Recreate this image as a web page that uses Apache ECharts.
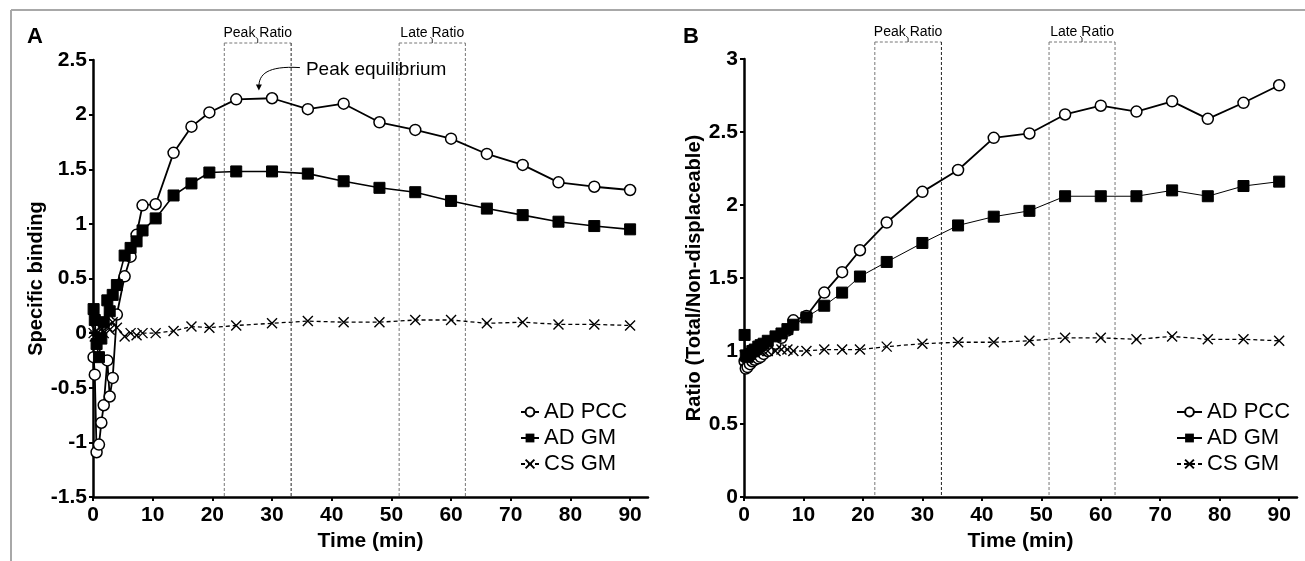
<!DOCTYPE html>
<html>
<head>
<meta charset="utf-8">
<script src="https://cdn.jsdelivr.net/npm/echarts@6/dist/echarts.min.js"></script>
<style>
  html, body { margin: 0; padding: 0; background: #fff; }
  #chart { width: 1305px; height: 561px; }
</style>
</head>
<body>
<div id="chart"></div>
<script>
// frame mid-times (min), shared by both panels
const timeMin = [0.1, 0.3, 0.6, 1, 1.4, 1.8, 2.4, 2.8, 3.3, 4, 5.3, 6.3, 7.3, 8.3, 10.5,
  13.5, 16.5, 19.5, 24, 30, 36, 42, 48, 54, 60, 66, 72, 78, 84, 90]

// panel A: specific binding
const bindingPCC = [-0.22, -0.38, -1.09, -1.02, -0.82, -0.66, -0.25, -0.58, -0.41, 0.17, 0.52, 0.70, 0.9, 1.17, 1.18,
  1.65, 1.89, 2.02, 2.14, 2.15, 2.05, 2.10, 1.93, 1.86, 1.78, 1.64, 1.54, 1.38, 1.34, 1.31]
const bindingADGM = [0.22, 0.12, -0.1, -0.22, -0.05, 0.1, 0.3, 0.2, 0.35, 0.44, 0.71, 0.78, 0.84, 0.94, 1.05,
  1.26, 1.37, 1.47, 1.48, 1.48, 1.46, 1.39, 1.33, 1.29, 1.21, 1.14, 1.08, 1.02, 0.98, 0.95]
const bindingCSGM = [0.0, -0.03, 0.02, -0.02, 0.04, 0.0, 0.06, 0.03, 0.1, 0.05, -0.03, 0.0, -0.02, 0.0, 0.0,
  0.02, 0.06, 0.05, 0.07, 0.09, 0.11, 0.10, 0.10, 0.12, 0.12, 0.09, 0.10, 0.08, 0.08, 0.07]

// panel B: ratio total / non-displaceable
const ratioPCC = [0.93, 0.88, 0.89, 0.91, 0.93, 0.94, 0.95, 0.96, 0.98, 1.0, 1.05, 1.09, 1.14, 1.21, 1.24,
  1.40, 1.54, 1.69, 1.88, 2.09, 2.24, 2.46, 2.49, 2.62, 2.68, 2.64, 2.71, 2.59, 2.70, 2.82]
const ratioADGM = [1.11, 0.97, 0.96, 0.98, 1.0, 1.01, 1.03, 1.04, 1.05, 1.07, 1.10, 1.12, 1.15, 1.18, 1.23,
  1.31, 1.40, 1.51, 1.61, 1.74, 1.86, 1.92, 1.96, 2.06, 2.06, 2.06, 2.10, 2.06, 2.13, 2.16]
const ratioCSGM = [0.97, 0.96, 0.97, 0.98, 0.99, 0.99, 1.0, 1.0, 1.0, 1.0, 1.0, 1.01, 1.01, 1.0, 1.0,
  1.01, 1.01, 1.01, 1.03, 1.05, 1.06, 1.06, 1.07, 1.09, 1.09, 1.08, 1.10, 1.08, 1.08, 1.07]

const xTicks = [0, 10, 20, 30, 40, 50, 60, 70, 80, 90]
const peakWindow = [22, 33.2]
const lateWindow = [51.3, 62.4]
const peakMarker = [27.8, 2.22] // arrow tip for "Peak equilibrium"

const FONT = '"Liberation Sans", Arial, sans-serif'
const chart = echarts.init(document.getElementById('chart'))

function xAxis (idx) {
  return {
    gridIndex: idx,
    type: 'value',
    min: 0,
    max: 93,
    interval: 10,
    name: 'Time (min)',
    nameLocation: 'middle',
    nameGap: 32,
    nameTextStyle: { fontFamily: FONT, fontWeight: 'bold', fontSize: 21, color: '#000' },
    axisLine: { onZero: false, lineStyle: { color: '#000', width: 2.5 } },
    axisTick: { show: true, length: 4, customValues: xTicks, lineStyle: { color: '#000', width: 2 } },
    axisLabel: { customValues: xTicks, margin: 8, fontFamily: FONT, fontWeight: 'bold', fontSize: 21, color: '#000' },
    splitLine: { show: false }
  }
}

function yAxis (idx, min, max, name, gap) {
  return {
    gridIndex: idx,
    type: 'value',
    min: min,
    max: max,
    interval: 0.5,
    name: name,
    nameLocation: 'middle',
    nameGap: gap,
    nameTextStyle: { fontFamily: FONT, fontWeight: 'bold', fontSize: 20, color: '#000' },
    axisLine: { show: true, onZero: false, lineStyle: { color: '#000', width: 2.5 } },
    axisTick: { show: true, length: 4, lineStyle: { color: '#000', width: 2 } },
    axisLabel: { margin: 6, fontFamily: FONT, fontWeight: 'bold', fontSize: 21, color: '#000' },
    splitLine: { show: false }
  }
}

const crossPath = 'path://M0,0L10,10M10,0L0,10'

function series (idx, name, values, kind, width) {
  const s = {
    type: 'line',
    name: name,
    xAxisIndex: idx,
    yAxisIndex: idx,
    data: timeMin.map((t, i) => [t, values[i]]),
    symbolSize: 11,
    showAllSymbol: true,
    animation: false,
    silent: true,
    lineStyle: { color: '#000', width: width }
  }
  if (kind === 'circle') {
    s.symbol = 'circle'
    s.itemStyle = { color: '#fff', borderColor: '#000', borderWidth: 1.5 }
  } else if (kind === 'rect') {
    s.symbol = 'rect'
    s.itemStyle = { color: '#000', borderColor: '#000' }
  } else {
    s.symbol = crossPath
    s.symbolSize = 10
    s.itemStyle = { color: 'rgba(0,0,0,0)', borderColor: '#000', borderWidth: 1.4 }
    s.lineStyle.type = [4, 3]
  }
  return s
}

function legend (left, iconW) {
  return {
    orient: 'vertical',
    left: left,
    top: 396,
    itemWidth: iconW,
    itemHeight: 11,
    itemGap: 4,
    selectedMode: false,
    data: ['AD PCC', 'AD GM', 'CS GM'],
    textStyle: { fontFamily: FONT, fontSize: 22, color: '#000' }
  }
}

chart.setOption({
  backgroundColor: '#fff',
  animation: false,
  grid: [
    { left: 93, top: 60, width: 555, height: 437 },
    { left: 744, top: 59, width: 553, height: 438 }
  ],
  xAxis: [xAxis(0), xAxis(1)],
  yAxis: [
    yAxis(0, -1.5, 2.5, 'Specific binding', 45),
    yAxis(1, 0, 3, 'Ratio (Total/Non-displaceable)', 40)
  ],
  legend: [legend(515, 18), legend(1171, 25)],
  series: [
    series(0, 'AD PCC', bindingPCC, 'circle', 1.8),
    series(0, 'AD GM', bindingADGM, 'rect', 1.6),
    series(0, 'CS GM', bindingCSGM, 'cross', 1.3),
    series(1, 'AD PCC', ratioPCC, 'circle', 1.8),
    series(1, 'AD GM', ratioADGM, 'rect', 1),
    series(1, 'CS GM', ratioCSGM, 'cross', 1.3)
  ]
})

// annotation layer, placed through the axes
const px = (i, t, v) => chart.convertToPixel({ xAxisIndex: i, yAxisIndex: i }, [t, v])
const gfx = []

function dashLine (x1, y1, x2, y2, color) {
  gfx.push({
    type: 'line',
    silent: true,
    shape: { x1: x1, y1: y1, x2: x2, y2: y2 },
    style: { stroke: color, lineWidth: 1, lineDash: [3, 2] }
  })
}

function windowBox (i, win, yMin, yMax, label, rightColor) {
  const [xa, yb] = px(i, win[0], yMin)
  const xb = px(i, win[1], yMin)[0]
  const yTop = px(i, win[0], yMax)[1] - 17
  dashLine(xa, yTop, xb, yTop, '#777')
  dashLine(xa, yTop, xa, yb, '#777')
  dashLine(xb, yTop, xb, yb, rightColor)
  const cx = (xa + xb) / 2
  gfx.push({
    type: 'polyline',
    silent: true,
    shape: { points: [[cx - 2, yTop - 6], [cx, yTop - 4], [cx, yTop]] },
    style: { stroke: '#333', lineWidth: 1, fill: null }
  })
  gfx.push({
    type: 'text',
    silent: true,
    x: cx,
    y: yTop - 10,
    style: { text: label, fontFamily: FONT, fontSize: 14, fill: '#000', align: 'center', verticalAlign: 'middle' }
  })
}

windowBox(0, peakWindow, -1.5, 2.5, 'Peak Ratio', '#222')
windowBox(0, lateWindow, -1.5, 2.5, 'Late Ratio', '#777')
windowBox(1, peakWindow, 0, 3, 'Peak Ratio', '#222')
windowBox(1, lateWindow, 0, 3, 'Late Ratio', '#777')

// "Peak equilibrium" callout
const tip = px(0, peakMarker[0], peakMarker[1])
gfx.push({
  type: 'bezierCurve',
  silent: true,
  shape: {
    x1: tip[0] + 41, y1: tip[1] - 23,
    cpx1: tip[0] + 8, cpy1: tip[1] - 25,
    cpx2: tip[0], cpy2: tip[1] - 16,
    x2: tip[0], y2: tip[1] - 4
  },
  style: { stroke: '#000', lineWidth: 1, fill: null }
})
gfx.push({
  type: 'polygon',
  silent: true,
  shape: { points: [[tip[0] - 3, tip[1] - 6], [tip[0] + 3, tip[1] - 6], [tip[0], tip[1]]] },
  style: { fill: '#000' }
})
gfx.push({
  type: 'text',
  silent: true,
  x: tip[0] + 47,
  y: tip[1] - 21,
  style: { text: 'Peak equilibrium', fontFamily: FONT, fontSize: 19, fill: '#000', verticalAlign: 'middle' }
})

// panel letters
gfx.push({ type: 'text', silent: true, x: 27, y: 37, style: { text: 'A', fontFamily: FONT, fontWeight: 'bold', fontSize: 22, fill: '#000', verticalAlign: 'middle' } })
gfx.push({ type: 'text', silent: true, x: 683, y: 37, style: { text: 'B', fontFamily: FONT, fontWeight: 'bold', fontSize: 22, fill: '#000', verticalAlign: 'middle' } })

// figure frame (top and left edges visible)
gfx.push({ type: 'line', silent: true, shape: { x1: 11, y1: 10, x2: 1305, y2: 10 }, style: { stroke: '#a8a8a8', lineWidth: 2 } })
gfx.push({ type: 'line', silent: true, shape: { x1: 11, y1: 10, x2: 11, y2: 561 }, style: { stroke: '#a8a8a8', lineWidth: 2 } })

chart.setOption({ graphic: gfx })
</script>
</body>
</html>
